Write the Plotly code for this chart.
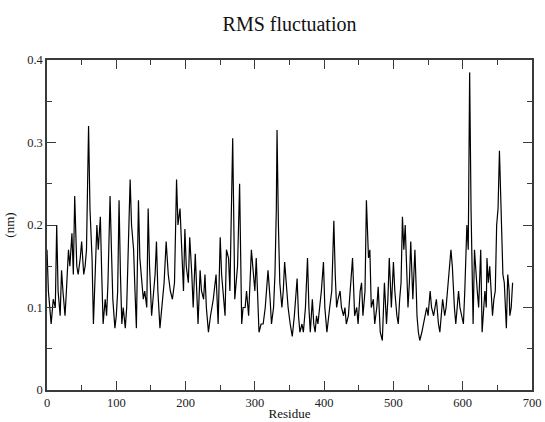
import plotly.graph_objects as go

# residue numbers and RMS fluctuation (nm)
residue = [
    0, 2, 4, 6, 9, 12, 14, 16, 19, 21, 23, 26, 28, 31, 33, 36, 38, 40, 43, 45,
    48, 50, 53, 55, 57, 60, 62, 65, 67, 69, 72, 74, 77, 79, 81, 84, 86, 88, 91, 93,
    95, 98, 100, 102, 104, 106, 108, 110, 113, 115, 117, 120, 122, 125, 127, 129, 132, 134, 137, 139,
    141, 144, 146, 148, 151, 153, 156, 158, 160, 163, 166, 169, 172, 175, 178, 181, 184, 187, 189, 192,
    194, 197, 199, 201, 204, 206, 209, 211, 214, 216, 218, 221, 223, 226, 228, 230, 233, 236, 240, 244,
    247, 250, 252, 254, 257, 259, 262, 264, 266, 268, 270, 271, 273, 275, 278, 280, 281, 283, 286, 288,
    291, 293, 295, 298, 300, 302, 304, 306, 309, 312, 315, 317, 319, 322, 324, 327, 329, 331, 332, 334,
    336, 339, 341, 343, 346, 348, 351, 354, 357, 359, 361, 363, 365, 368, 370, 373, 376, 378, 380, 383,
    385, 387, 389, 391, 394, 396, 399, 401, 404, 406, 408, 411, 414, 416, 418, 420, 423, 425, 428, 430,
    432, 435, 437, 441, 444, 447, 449, 452, 454, 456, 459, 461, 464, 466, 468, 471, 473, 476, 478, 481,
    484, 487, 490, 492, 494, 497, 500, 502, 505, 507, 509, 511, 513, 515, 517, 519, 521, 523, 525, 528,
    531, 533, 534, 536, 538, 541, 543, 546, 548, 550, 553, 555, 558, 560, 562, 565, 567, 569, 571, 574,
    576, 578, 580, 583, 585, 586, 588, 590, 592, 594, 596, 598, 601, 603, 606, 608, 610, 612, 613, 615,
    617, 619, 621, 623, 626, 628, 630, 632, 634, 635, 637, 639, 641, 643, 645, 647, 649, 651, 653, 655,
    656, 658, 660, 662, 663, 665, 667, 668, 670, 672,
]
rmsf = [
    0.17, 0.12, 0.10, 0.08, 0.11, 0.10, 0.20, 0.12, 0.09, 0.145, 0.12, 0.09, 0.12, 0.17, 0.15, 0.19, 0.14, 0.235, 0.15, 0.14,
    0.16, 0.18, 0.14, 0.15, 0.17, 0.32, 0.22, 0.16, 0.08, 0.12, 0.20, 0.17, 0.21, 0.14, 0.08, 0.11, 0.09, 0.13, 0.235, 0.17,
    0.11, 0.075, 0.09, 0.12, 0.23, 0.14, 0.08, 0.10, 0.075, 0.10, 0.16, 0.255, 0.20, 0.17, 0.12, 0.075, 0.23, 0.16, 0.13, 0.11,
    0.12, 0.10, 0.22, 0.15, 0.09, 0.11, 0.14, 0.18, 0.12, 0.075, 0.10, 0.13, 0.18, 0.14, 0.12, 0.11, 0.13, 0.255, 0.20, 0.22,
    0.18, 0.12, 0.195, 0.15, 0.13, 0.185, 0.14, 0.10, 0.165, 0.12, 0.08, 0.145, 0.12, 0.11, 0.14, 0.10, 0.07, 0.09, 0.11, 0.14,
    0.08, 0.185, 0.14, 0.12, 0.09, 0.17, 0.16, 0.12, 0.20, 0.305, 0.18, 0.11, 0.13, 0.15, 0.25, 0.14, 0.08, 0.10, 0.10, 0.12,
    0.09, 0.13, 0.17, 0.14, 0.12, 0.16, 0.11, 0.07, 0.08, 0.08, 0.10, 0.12, 0.145, 0.11, 0.08, 0.10, 0.14, 0.22, 0.315, 0.20,
    0.13, 0.10, 0.12, 0.155, 0.12, 0.10, 0.08, 0.065, 0.09, 0.11, 0.135, 0.09, 0.07, 0.08, 0.07, 0.10, 0.16, 0.10, 0.07, 0.11,
    0.08, 0.07, 0.09, 0.08, 0.10, 0.12, 0.155, 0.10, 0.07, 0.09, 0.10, 0.12, 0.205, 0.14, 0.10, 0.11, 0.12, 0.10, 0.09, 0.10,
    0.08, 0.09, 0.11, 0.16, 0.09, 0.10, 0.08, 0.12, 0.13, 0.09, 0.12, 0.23, 0.16, 0.17, 0.10, 0.11, 0.08, 0.10, 0.125, 0.07,
    0.06, 0.13, 0.08, 0.11, 0.16, 0.10, 0.155, 0.12, 0.09, 0.08, 0.11, 0.13, 0.21, 0.17, 0.20, 0.14, 0.10, 0.13, 0.18, 0.11,
    0.17, 0.12, 0.09, 0.07, 0.06, 0.07, 0.08, 0.09, 0.10, 0.09, 0.12, 0.10, 0.09, 0.10, 0.11, 0.08, 0.07, 0.09, 0.11, 0.09,
    0.10, 0.12, 0.14, 0.17, 0.15, 0.13, 0.10, 0.08, 0.10, 0.12, 0.10, 0.09, 0.08, 0.12, 0.20, 0.17, 0.385, 0.22, 0.15, 0.08,
    0.17, 0.14, 0.12, 0.10, 0.17, 0.07, 0.09, 0.12, 0.10, 0.16, 0.13, 0.15, 0.12, 0.09, 0.11, 0.12, 0.20, 0.22, 0.29, 0.24,
    0.20, 0.14, 0.13, 0.10, 0.075, 0.14, 0.12, 0.09, 0.10, 0.13,
]
x_ticks = [0, 100, 200, 300, 400, 500, 600, 700]
y_ticks = [0, 0.1, 0.2, 0.3, 0.4]

SERIF = "Liberation Serif, Times New Roman, serif"
FRAME = "#3a3a3a"

fig = go.Figure(
    go.Scatter(
        x=residue,
        y=rmsf,
        mode="lines",
        line={"color": "black", "width": 1.2},
        hoverinfo="skip",
    )
)

axis_style = {
    "automargin": False,
    "showgrid": False,
    "zeroline": False,
    "showline": True,
    "linecolor": FRAME,
    "linewidth": 1.5,
    "mirror": "allticks",
    "ticks": "inside",
    "ticklen": 9,
    "tickwidth": 1,
    "tickcolor": FRAME,
    "ticklabeloverflow": "allow",
    "tickfont": {"family": SERIF, "size": 12.5, "color": "#222"},
}

fig.update_xaxes(
    range=[0, 700],
    tickvals=x_ticks,
    ticktext=[str(v) for v in x_ticks],
    minor={"ticks": "inside", "dtick": 50, "ticklen": 5, "tickcolor": FRAME},
    title={"text": "Residue", "font": {"family": SERIF, "size": 13, "color": "#111"}, "standoff": 0},
    **axis_style,
)
fig.update_yaxes(
    range=[0, 0.4],
    tickvals=y_ticks,
    ticktext=["0", "0.1", "0.2", "0.3", "0.4"],
    minor={"ticks": "inside", "dtick": 0.05, "ticklen": 5, "tickcolor": FRAME},
    title={"text": "(nm)", "font": {"family": SERIF, "size": 13, "color": "#111"}, "standoff": 10},
    **axis_style,
)

fig.update_layout(
    width=545,
    height=422,
    margin={"l": 47, "r": 13, "t": 60, "b": 32},
    paper_bgcolor="white",
    plot_bgcolor="white",
    showlegend=False,
    title={
        "text": "RMS fluctuation",
        "font": {"family": SERIF, "size": 20, "color": "#111"},
        "x": 0.5,
        "xref": "paper",
        "xanchor": "center",
        "y": 0.943,
        "yref": "container",
        "yanchor": "middle",
    },
)

# drop the default body margin so the figure fills the window exactly
fig.write_html(
    "out.html",
    config={"displayModeBar": False},
    post_script="document.body.style.margin = '0';",
)
